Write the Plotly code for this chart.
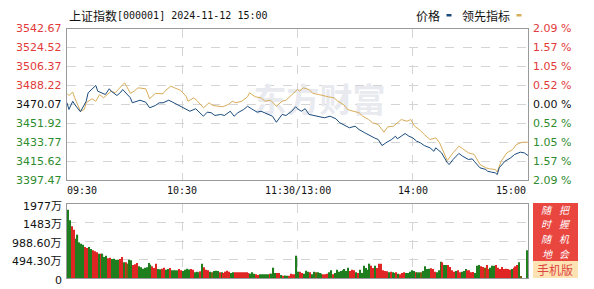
import numpy as np
import plotly.graph_objects as go

W, H = 594, 289

# ---------------- data ----------------
price_min = [0, 1, 3, 4, 7, 9, 10, 11, 13, 15, 16, 18, 20, 22, 23, 26, 28, 29, 31, 33, 34, 36, 38, 41, 43, 46, 48, 50, 53, 55,
             59, 62, 64, 67, 69, 71, 73, 75, 77, 80, 82, 85, 87, 89, 92, 94, 96, 99, 101, 104, 107, 109, 112, 114, 117, 119,
             120, 122, 124, 126, 129, 132, 134, 137, 140, 142, 145, 147, 150, 152, 155, 158, 160, 162, 164, 166, 169, 171,
             172, 174, 176, 178, 180, 182, 184, 186, 189, 191, 192, 195, 198, 199, 201, 204, 206, 209, 211, 212, 215, 218,
             219, 221, 223, 224, 225, 228, 231, 233, 236, 238, 240]
price_val = [3471.7, 3465.3, 3473.2, 3470.1, 3463.1, 3470.1, 3473.2, 3481.3, 3484.5, 3488.4, 3482.9, 3481.3, 3479.7, 3485.2,
             3482.9, 3478.7, 3481.9, 3484.5, 3480.7, 3476.5, 3471.7, 3473.2, 3474.2, 3472.3, 3466.9, 3469.1, 3471.7, 3471.7,
             3474.2, 3472.3, 3468.4, 3466.0, 3463.6, 3466.0, 3462.2, 3458.8, 3462.7, 3462.2, 3459.5, 3460.5, 3459.5, 3463.6,
             3458.8, 3462.2, 3465.3, 3468.4, 3466.0, 3462.7, 3463.6, 3461.4, 3458.8, 3453.0, 3460.5, 3459.5, 3463.6, 3467.9,
             3466.0, 3463.6, 3466.0, 3460.5, 3459.5, 3458.2, 3457.3, 3458.8, 3456.3, 3452.5, 3449.2, 3447.7, 3449.2, 3446.0,
             3442.9, 3439.6, 3438.0, 3436.4, 3430.6, 3433.2, 3436.4, 3439.6, 3437.1, 3439.6, 3442.2, 3439.6, 3438.0, 3434.8,
             3433.2, 3430.6, 3428.4, 3425.1, 3428.4, 3423.6, 3414.0, 3412.4, 3417.2, 3423.0, 3420.3, 3417.2, 3417.8, 3415.5,
             3409.2, 3407.6, 3405.9, 3405.0, 3404.3, 3402.7, 3409.2, 3415.5, 3418.8, 3422.0, 3424.2, 3423.6, 3421.0]

lead_min = [0, 1, 3, 4, 7, 9, 10, 13, 15, 17, 19, 21, 23, 25, 27, 30, 31, 33, 35, 37, 41, 43, 46, 50, 51, 54, 56, 59, 62, 63,
            66, 68, 71, 74, 76, 79, 81, 84, 86, 88, 91, 94, 95, 98, 101, 103, 106, 109, 112, 114, 117, 120, 121, 123, 126,
            128, 131, 133, 136, 139, 141, 144, 146, 149, 152, 154, 157, 159, 162, 165, 167, 170, 172, 174, 177, 179, 181,
            184, 186, 189, 192, 194, 197, 198, 201, 204, 206, 209, 212, 215, 218, 220, 223, 224, 226, 229, 232, 234, 237, 240]
lead_val = [3480.7, 3478.7, 3482.0, 3476.5, 3463.6, 3465.3, 3471.7, 3475.6, 3473.2, 3479.7, 3476.5, 3479.7, 3482.9, 3481.3,
            3485.2, 3490.9, 3487.7, 3480.7, 3482.9, 3486.1, 3485.2, 3475.6, 3480.7, 3480.4, 3482.9, 3487.7, 3486.1, 3483.8,
            3478.0, 3473.2, 3476.5, 3473.2, 3466.9, 3471.7, 3469.1, 3468.4, 3467.9, 3470.1, 3473.2, 3471.7, 3473.2, 3477.5,
            3481.3, 3477.5, 3476.5, 3473.2, 3474.2, 3468.4, 3473.2, 3474.2, 3479.7, 3484.5, 3482.9, 3486.1, 3484.5, 3480.7,
            3479.7, 3478.7, 3477.5, 3476.5, 3473.2, 3470.1, 3465.3, 3463.6, 3462.2, 3458.8, 3455.6, 3452.5, 3450.8, 3443.4,
            3448.6, 3449.2, 3452.5, 3455.6, 3454.0, 3455.6, 3449.2, 3445.0, 3441.2, 3436.4, 3438.0, 3433.2, 3420.3, 3416.2,
            3423.6, 3430.0, 3427.5, 3423.6, 3422.0, 3412.4, 3409.2, 3408.2, 3407.6, 3405.0, 3415.5, 3423.6, 3426.8, 3431.6,
            3433.8, 3433.8]

# volume per minute (万), morning then afternoon
vol_am = [1825, 1540, 1380, 1290, 1050, 1157, 952, 917, 890, 828, 801, 828, 774, 740,
          712, 685, 650, 650, 650, 561, 596, 525, 543, 507, 516, 490, 490, 507, 561, 418, 418, 383, 490, 472, 347, 365, 400, 312,
          290,
          249, 276, 285, 400, 356, 312, 267, 383, 240, 231, 249, 276, 222, 240, 267, 205, 205, 205, 205, 240, 205, 187, 222, 249,
          230,
          240, 222, 151, 169, 151, 178, 383, 285, 222, 205, 169, 151, 187, 196, 187, 151, 151, 133, 169, 196, 169, 133, 151, 151,
          151,
          151, 151, 151, 151, 151, 133, 116, 151, 116, 98, 80, 98, 98, 98, 98, 98, 116, 116, 276, 133, 133, 133, 80, 62,
          70,
          62, 62, 116, 98, 98, 596]
vol_pm = [169, 169, 133, 116, 196, 169, 151, 98, 169, 151, 151, 133, 116, 98, 98, 116, 151, 205, 98, 133, 222, 169,
          187,
          205, 240, 187, 276, 187, 222, 205, 151, 133, 222, 133, 329, 267, 222, 383, 329, 267, 329, 267, 383, 383, 205,
          190,
          178, 151, 169, 151, 133, 151, 116, 98, 133, 151, 133, 133, 169, 205, 187, 151, 151, 151, 151, 187, 312, 240,
          250,
          258, 240, 169, 151, 205, 436, 418, 347, 347, 347, 294, 205, 169, 187, 205, 151, 169, 187, 240, 205, 205, 151,
          160,
          133, 329, 347, 312, 294, 276, 347, 240, 276, 329, 329, 347, 276, 240, 294, 240,
          250,
          240, 222, 240, 276, 312, 347, 418,
          27, 0, 0, 739]
# r = up (red), g = down (green), o = flat
dir_am = ("ggrrgggggrrgg" + "r" + "rrgrgggrrggggrrgroggrrrg" + "g" + "gggggrrrggrrggrggggrrggg" + "g" +
          "rrgggrgrrrgogggrgrrrrggr" + "r" + "rrrrrrgggrrgggggrgggrrgr" + "g" + "grrrrg")
dir_pm = ("grrgggrggogggrrrggrggg" + "g" + "ggggrrrgrggggggrrgrrrr" + "r" + "rgrggrgrrrgggggrggoggg" + "g" +
          "rrrgggrggrrrrgrrgggrrr" + "r" + "gggrrorrgggrrrrr" + "r" + "rrgrrrg" + "oggg")

price_ticks = [3542.67, 3524.52, 3506.37, 3488.22, 3470.07, 3451.92, 3433.77, 3415.62, 3397.47]
pct_labels = ["2.09 %", "1.57 %", "1.05 %", "0.52 %", "0.00 %", "0.52 %", "1.05 %", "1.57 %", "2.09 %"]
vol_ticks = [1977, 1482.9, 988.6, 494.3, 0]
vol_labels = ["1977万", "1483万", "988.60万", "494.30万", "0"]
time_pos = [0, 60, 120, 180, 240]
time_labels = ["09:30", "10:30", "11:30/13:00", "14:00", "15:00"]

volumes = vol_am + vol_pm
dirs = dir_am + dir_pm
assert len(volumes) == 240 and len(dirs) == 240, (len(volumes), len(dirs))

# ---------------- style ----------------
BLUE = "#1a4b7d"
GOLD = "#d8ad58"
RED_T = "#e23a3a"
GREEN_T = "#2e8b2e"
BAR_C = {"r": "#e02525", "g": "#1f7f1f", "o": "#7d5c10"}
GRID = "#d4d4d4"
BORDER = "#9a9a9a"
NUMF = "DejaVu Sans, Noto Sans CJK SC"
CJKF = "Noto Sans CJK SC"
MONOF = "DejaVu Sans Mono"


def px(x):
    return x / W


def py(y):
    return 1 - y / H


fig = go.Figure()

# watermark (below the lines)
fig.add_trace(go.Scatter(x=[131.5], y=[3471.0], mode="text", text=["<b>东方财富</b>"],
                         textfont=dict(size=33, color="#e8eaef", family=CJKF),
                         hoverinfo="skip", showlegend=False, xaxis="x", yaxis="y"))

fig.add_trace(go.Scatter(x=lead_min, y=lead_val, mode="lines", line=dict(color=GOLD, width=1),
                         hoverinfo="skip", showlegend=False, xaxis="x", yaxis="y"))
fig.add_trace(go.Scatter(x=price_min, y=price_val, mode="lines", line=dict(color=BLUE, width=1),
                         hoverinfo="skip", showlegend=False, xaxis="x", yaxis="y"))

bar_x = np.arange(len(volumes)) + 0.5
fig.add_trace(go.Bar(x=bar_x, y=volumes, width=0.6,
                     marker=dict(color=[BAR_C[d] for d in dirs], line=dict(width=0)),
                     hoverinfo="skip", showlegend=False, xaxis="x2", yaxis="y2"))

axis_common = dict(showline=True, mirror=True, linecolor=BORDER, linewidth=1, ticks="",
                   showgrid=True, gridcolor=GRID, griddash="dash", gridwidth=1, zeroline=False,
                   showticklabels=False, fixedrange=True)

fig.update_layout(
    width=W, height=H, margin=dict(l=0, r=0, t=0, b=0),
    paper_bgcolor="white", plot_bgcolor="white", showlegend=False,
    xaxis=dict(domain=[px(67), px(528)], range=[0, 240], tickvals=[60, 120, 180], anchor="y", **axis_common),
    yaxis=dict(domain=[py(180), py(29)], range=[price_ticks[-1], price_ticks[0]], tickvals=price_ticks,
               anchor="x", **axis_common),
    xaxis2=dict(domain=[px(67), px(528)], range=[0, 240], tickvals=[60, 120, 180], anchor="y2", **axis_common),
    yaxis2=dict(domain=[py(278), py(204)], range=[0, 1977], tickvals=[494.3, 988.6, 1482.9],
                anchor="x2", **axis_common),
)

ann = []
# title
ann.append(dict(text="上证指数", x=px(67), y=py(16), xref="paper", yref="paper", xanchor="left",
                yanchor="middle", showarrow=False, font=dict(family=CJKF, size=12, color="#111")))
ann.append(dict(text="[000001] 2024-11-12 15:00", x=px(115), y=py(16), xref="paper", yref="paper",
                xanchor="left", yanchor="middle", showarrow=False, font=dict(family=MONOF, size=10, color="#111")))
# legend
ann.append(dict(text="价格", x=px(414), y=py(16), xref="paper", yref="paper", xanchor="left",
                yanchor="middle", showarrow=False, font=dict(family=CJKF, size=12, color="#111")))
ann.append(dict(text="领先指标", x=px(460), y=py(16), xref="paper", yref="paper", xanchor="left",
                yanchor="middle", showarrow=False, font=dict(family=CJKF, size=12, color="#111")))

n = len(price_ticks)
for i, (v, t) in enumerate(zip(price_ticks, pct_labels)):
    c = RED_T if i < n // 2 else ("#111" if i == n // 2 else GREEN_T)
    ann.append(dict(text=f"{v:.2f}", x=px(64), y=v, xref="paper", yref="y", xanchor="right",
                    yanchor="middle", showarrow=False, font=dict(family=NUMF, size=11, color=c)))
    ann.append(dict(text=t, x=px(531), y=v, xref="paper", yref="y", xanchor="left",
                    yanchor="middle", showarrow=False, font=dict(family=NUMF, size=11, color=c)))

for v, t in zip(vol_ticks, vol_labels):
    ann.append(dict(text=t, x=px(64), y=v, xref="paper", yref="y2", xanchor="right", yanchor="middle",
                    yshift=-2, showarrow=False, font=dict(family=NUMF, size=11, color="#111")))

for pos, t in zip(time_pos, time_labels):
    xa = "left" if pos == time_pos[0] else ("right" if pos == time_pos[-1] else "center")
    ann.append(dict(text=t, x=pos, y=py(190), xref="x", yref="paper", xanchor=xa, yanchor="middle",
                    xshift=-2 if xa == "left" else 0, showarrow=False,
                    font=dict(family=MONOF, size=10, color="#111")))

# promo box: two vertical columns of characters
rows_y = [209.2, 223.8, 238.4, 253.0]
for col_text, cx in (("随时随地", 547), ("把握机会", 564.5)):
    for ch, cy in zip(col_text, rows_y):
        ann.append(dict(text=ch, x=px(cx), y=py(cy), xref="paper", yref="paper", xanchor="center",
                        yanchor="middle", showarrow=False,
                        font=dict(family=CJKF, size=10, color="white", style="italic")))
ann.append(dict(text="手机版", x=px(555), y=py(269.5), xref="paper", yref="paper", xanchor="center",
                yanchor="middle", showarrow=False, font=dict(family=CJKF, size=12, color="#e0463f")))

shapes = [
    dict(type="rect", xref="paper", yref="paper", x0=px(446.5), x1=px(451.5), y0=py(16.5), y1=py(14),
         fillcolor=BLUE, line=dict(width=0)),
    dict(type="rect", xref="paper", yref="paper", x0=px(516.5), x1=px(521.5), y0=py(16.5), y1=py(14),
         fillcolor=GOLD, line=dict(width=0)),
    dict(type="rect", xref="paper", yref="paper", x0=px(533), x1=px(578), y0=py(261), y1=py(203),
         fillcolor="#e8463f", line=dict(width=0)),
    dict(type="rect", xref="paper", yref="paper", x0=px(533), x1=px(578), y0=py(278), y1=py(261),
         fillcolor="#fde3b3", line=dict(width=0)),
]

fig.update_layout(annotations=ann, shapes=shapes)
fig.write_html("out.html", config={"displayModeBar": False})
